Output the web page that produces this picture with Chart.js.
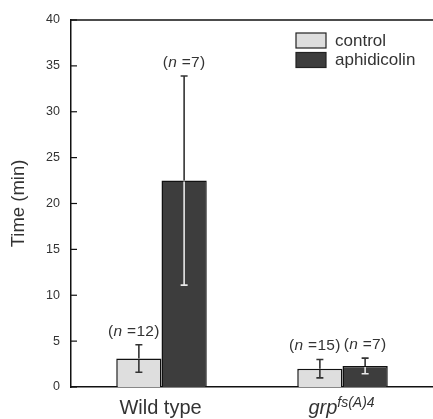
<!DOCTYPE html>
<html>
<head>
<meta charset="utf-8">
<script src="https://cdn.jsdelivr.net/npm/chart.js@4"></script>
<style>
  html, body { margin: 0; padding: 0; background: #fff; }
  #wrap { width: 433px; height: 419px; position: relative; }
</style>
</head>
<body>
<div id="wrap"><canvas id="c" width="433" height="419"></canvas></div>
<script>
// ---- data ----
const categories = ['Wild type', 'grp'];
const categorySup = ['', 'fs(A)4'];
const categoryItalic = [false, true];
const seriesNames = ['control', 'aphidicolin'];
const controlMean = [3.1, 2.0];
const controlErr = [1.5, 1.0];
const aphidMean = [22.5, 2.3];
const aphidErr = [11.4, 0.85];
const controlN = [12, 15];
const aphidN = [7, 7];
const yTicks = [0, 5, 10, 15, 20, 25, 30, 35, 40];

const FONT = "'Liberation Sans', Arial, Helvetica, sans-serif";
const TEXT = '#333';
const LIGHT = '#dedede';
const DARK = '#3d3d3d';

const errs = [controlErr, aphidErr];
const ns = [controlN, aphidN];
const labelShift = [-5, 0];

const decor = {
  id: 'decor',
  afterDatasetsDraw(chart) {
    const ctx = chart.ctx;
    const ys = chart.scales.y, xs = chart.scales.x;
    const ca = chart.chartArea;
    ctx.save();
    // top frame line
    ctx.strokeStyle = '#111';
    ctx.lineWidth = 1.5;
    ctx.beginPath();
    ctx.moveTo(ca.left, ca.top);
    ctx.lineTo(ca.right, ca.top);
    ctx.stroke();
    // inward ticks
    ctx.lineWidth = 1.2;
    yTicks.forEach(v => {
      const py = ys.getPixelForValue(v);
      ctx.beginPath();
      ctx.moveTo(ca.left, py);
      ctx.lineTo(ca.left + 6, py);
      ctx.stroke();
    });
    // error bars + n labels
    chart.data.datasets.forEach((ds, di) => {
      const meta = chart.getDatasetMeta(di);
      meta.data.forEach((bar, i) => {
        const v = ds.data[i], e = errs[di][i];
        const x = bar.x;
        const pTop = ys.getPixelForValue(v + e);
        const pBot = ys.getPixelForValue(v - e);
        const pBar = ys.getPixelForValue(v);
        const lowColor = di === 1 ? '#e8e8e8' : '#333';
        ctx.lineWidth = 1.6;
        ctx.strokeStyle = '#333';
        ctx.beginPath();
        ctx.moveTo(x, pTop); ctx.lineTo(x, pBar);
        ctx.moveTo(x - 3.5, pTop); ctx.lineTo(x + 3.5, pTop);
        ctx.stroke();
        ctx.strokeStyle = lowColor;
        ctx.beginPath();
        ctx.moveTo(x, pBar + 1); ctx.lineTo(x, pBot);
        ctx.moveTo(x - 3.5, pBot); ctx.lineTo(x + 3.5, pBot);
        ctx.stroke();
        // label (n =N)
        const parts = [
          ['(', `15.5px ${FONT}`],
          ['n', `italic 15.5px ${FONT}`],
          [' =' + ns[di][i] + ')', `15.5px ${FONT}`]
        ];
        ctx.letterSpacing = '0.3px';
        let w = 0;
        parts.forEach(p => { ctx.font = p[1]; w += ctx.measureText(p[0]).width; });
        let cx = x + labelShift[di] - w / 2;
        ctx.fillStyle = TEXT;
        ctx.textBaseline = 'alphabetic';
        ctx.textAlign = 'left';
        parts.forEach(p => {
          ctx.font = p[1];
          ctx.fillText(p[0], cx, pTop - 9);
          cx += ctx.measureText(p[0]).width;
        });
        ctx.letterSpacing = '0px';
      });
    });
    // x category labels
    categories.forEach((lab, i) => {
      const px = xs.getPixelForValue(i);
      const mainFont = (categoryItalic[i] ? 'italic ' : '') + `20px ${FONT}`;
      const supFont = `italic 14px ${FONT}`;
      ctx.font = mainFont;
      const w1 = ctx.measureText(lab).width;
      ctx.font = supFont;
      const w2 = categorySup[i] ? ctx.measureText(categorySup[i]).width : 0;
      const sx = px - (w1 + w2) / 2 - 1;
      ctx.fillStyle = TEXT;
      ctx.textAlign = 'left';
      ctx.textBaseline = 'alphabetic';
      ctx.font = mainFont;
      ctx.fillText(lab, sx, 414);
      if (categorySup[i]) {
        ctx.font = supFont;
        ctx.fillText(categorySup[i], sx + w1, 407);
      }
    });
    // legend
    const fills = [LIGHT, DARK];
    seriesNames.forEach((name, i) => {
      const by = 33 + i * 19.5;
      ctx.fillStyle = fills[i];
      ctx.fillRect(296, by, 30, 15);
      ctx.strokeStyle = '#222';
      ctx.lineWidth = 1.2;
      ctx.strokeRect(296, by, 30, 15);
      ctx.fillStyle = TEXT;
      ctx.font = `17px ${FONT}`;
      ctx.textBaseline = 'middle';
      ctx.fillText(name, 335, by + 8);
    });
    ctx.restore();
  }
};

new Chart(document.getElementById('c'), {
  type: 'bar',
  data: {
    labels: categories,
    datasets: [
      { label: seriesNames[0], data: controlMean, backgroundColor: LIGHT, borderColor: '#111', borderWidth: 1.5 },
      { label: seriesNames[1], data: aphidMean, backgroundColor: DARK, borderColor: '#111', borderWidth: 1.5 }
    ]
  },
  options: {
    responsive: false,
    animation: false,
    devicePixelRatio: 1,
    layout: { padding: { top: 20, right: 0, left: 0, bottom: 0 } },
    plugins: { legend: { display: false }, tooltip: { enabled: false } },
    datasets: { bar: { categoryPercentage: 0.5, barPercentage: 1.0 } },
    scales: {
      x: {
        grid: { display: false },
        border: { display: true, color: '#111', width: 1.5 },
        ticks: { display: false },
        afterFit(s) { s.height = 32; }
      },
      y: {
        min: 0, max: 40,
        afterBuildTicks(s) { s.ticks = yTicks.map(v => ({ value: v })); },
        grid: { display: false, drawTicks: false },
        border: { display: true, color: '#111', width: 1.5 },
        ticks: { padding: 11, color: TEXT, font: { family: FONT, size: 12.5 } },
        title: { display: true, text: 'Time (min)', color: TEXT, font: { family: FONT, size: 18.5 }, padding: { top: 8, bottom: 0 } },
        afterFit(s) { s.width = 71; }
      }
    }
  },
  plugins: [decor]
});
</script>
</body>
</html>
